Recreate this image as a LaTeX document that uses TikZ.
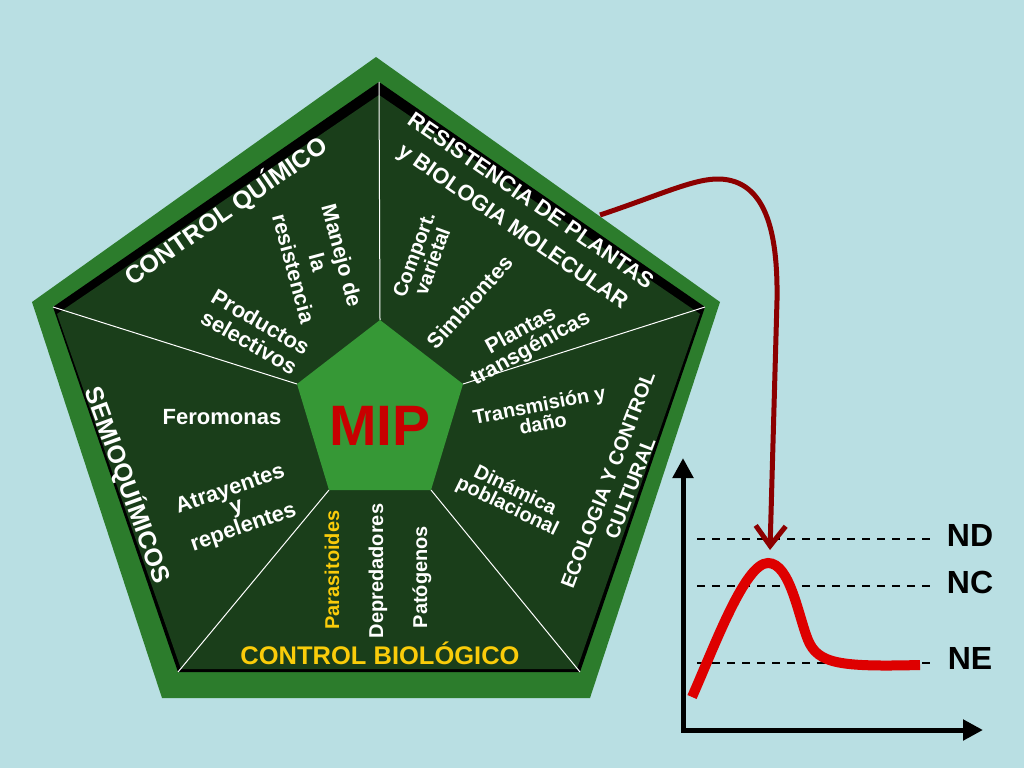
\documentclass[tikz,border=0pt]{standalone}
\usepackage{fontspec}
\setmainfont{Liberation Sans}
\usetikzlibrary{arrows.meta}

\definecolor{bgblue}{RGB}{185,223,227}
\definecolor{rimgreen}{RGB}{44,124,44}
\definecolor{darkleaf}{RGB}{26,62,26}
\definecolor{hubgreen}{RGB}{54,152,54}
\definecolor{mipred}{RGB}{200,0,0}
\definecolor{goldtxt}{RGB}{250,204,10}
\definecolor{curvered}{RGB}{222,0,0}
\definecolor{arrowred}{RGB}{140,0,0}

\begin{document}
\begin{tikzpicture}[x=1pt,y=-1pt]
  \tikzset{
    lbl/.style={text=white, font=\bfseries\fontsize{20}{22}\selectfont, align=center, inner sep=0pt},
    head/.style={lbl, font=\bfseries\fontsize{25}{27}\selectfont},
    divider/.style={white, line width=1pt},
    level/.style={black, line width=2pt, dash pattern=on 8pt off 7pt},
    lvltxt/.style={font=\bfseries\fontsize{32}{32}\selectfont, inner sep=0pt},
    axis/.style={black, line width=5pt, line join=miter, {Triangle[length=20pt,width=20pt]}-{Triangle[length=20pt,width=20pt]}},
    flow/.style={arrowred, line width=5pt, -{Straight Barb[length=20pt,width=30pt]}},
    trend/.style={curvered, line width=10pt}
  }

  % background
  \fill[bgblue] (0,0) rectangle (1024,768);
  \useasboundingbox (0,0) rectangle (1024,768);

  % outer rim
  \coordinate (oT) at (376,57);
  \coordinate (oL) at (32,302);
  \coordinate (oR) at (720,302);
  \coordinate (oBL) at (162,698);
  \coordinate (oBR) at (590,698);
  \fill[rimgreen] (oT) -- (oR) -- (oBR) -- (oBL) -- (oL) -- cycle;

  % black edge and dark field
  \coordinate (iT) at (379,82);
  \coordinate (iL) at (53,307);
  \coordinate (iR) at (705,307);
  \coordinate (iBL) at (178,672);
  \coordinate (iBR) at (580,672);
  \fill[black] (iT) -- (iR) -- (iBR) -- (iBL) -- (iL) -- cycle;
  \fill[darkleaf] (379,95) -- (700,314) -- (577,669) -- (181,669) -- (57,314) -- cycle;

  % hub corners
  \coordinate (hT) at (380,320);
  \coordinate (hL) at (297,384);
  \coordinate (hR) at (463,384);
  \coordinate (hBL) at (329,490);
  \coordinate (hBR) at (431,490);

  % dividers
  \draw[divider] (iT) -- (hT);
  \draw[divider] (iL) -- (hL);
  \draw[divider] (iR) -- (hR);
  \draw[divider] (iBL) -- (hBL);
  \draw[divider] (iBR) -- (hBR);

  \fill[hubgreen] (hT) -- (hR) -- (hBR) -- (hBL) -- (hL) -- cycle;
  \node[font=\bfseries\fontsize{57}{57}\selectfont, text=mipred, inner sep=0pt] (mip) at (380,426) {MIP};

  % sector headings
  \node[head, rotate=34.6] (quim) at (226,211) {CONTROL QUÍMICO};
  \node[head, font=\bfseries\fontsize{22}{31}\selectfont, rotate=-34.6] (resis) at (521,215) {RESISTENCIA DE PLANTAS\\y BIOLOGIA MOLECULAR};
  \node[head, font=\bfseries\fontsize{20}{24}\selectfont, rotate=69] (ecol) at (619,484) {ECOLOGIA Y CONTROL\\CULTURAL};
  \node[head, text=goldtxt, font=\bfseries\fontsize{25.5}{27}\selectfont] (biol) at (380,653) {CONTROL BIOLÓGICO};
  \node[head, rotate=-70] (semio) at (128,485) {SEMIOQUÍMICOS};

  % sector items
  \node[lbl, font=\bfseries\fontsize{21.5}{25}\selectfont, rotate=-75] (manejo) at (318,262) {Manejo de\\la\\resistencia};
  \node[lbl, font=\bfseries\fontsize{22}{23}\selectfont, rotate=-30] (prod) at (255,332) {Productos\\selectivos};
  \node[lbl, font=\bfseries\fontsize{20}{18}\selectfont, rotate=70] (comp) at (423,258) {Comport.\\varietal};
  \node[lbl, font=\bfseries\fontsize{21.5}{22}\selectfont, rotate=48] (simb) at (470,302) {Simbiontes};
  \node[lbl, font=\bfseries\fontsize{21.5}{20}\selectfont, rotate=29] (plant) at (526,340) {Plantas\\transgénicas};
  \node[lbl, font=\bfseries\fontsize{20}{19}\selectfont, rotate=11] (trans) at (541,414) {Transmisión y\\daño};
  \node[lbl, font=\bfseries\fontsize{20}{18}\selectfont, rotate=-26] (dinam) at (511,499) {Dinámica\\poblacional};
  \node[lbl, font=\bfseries\fontsize{22}{22}\selectfont] (fero) at (222,417) {Feromonas};
  \node[lbl, font=\bfseries\fontsize{22}{19}\selectfont, rotate=19] (atra) at (237,509) {Atrayentes\\y\\repelentes};
  \node[lbl, text=goldtxt, rotate=90] (para) at (332,570) {Parasitoides};
  \node[lbl, rotate=90] (depr) at (378,571) {Depredadores};
  \node[lbl, rotate=90] (pato) at (422,577) {Patógenos};

  % graph
  \coordinate (yTip) at (683,458);
  \coordinate (org) at (683,730);
  \coordinate (xTip) at (983,730);
  \draw[axis] (yTip) -- (org) -- (xTip);

  \coordinate (ndA) at (697,539);  \coordinate (ndB) at (933,539);
  \coordinate (ncA) at (697,586);  \coordinate (ncB) at (933,586);
  \coordinate (neA) at (697,663);  \coordinate (neB) at (933,663);
  \draw[level] (ndA) -- (ndB);
  \draw[level] (ncA) -- (ncB);
  \draw[level] (neA) -- (neB);
  \node[lvltxt] (nd) at (970,535) {ND};
  \node[lvltxt] (nc) at (970,582) {NC};
  \node[lvltxt] (ne) at (970,658) {NE};

  \coordinate (c0) at (692,697);
  \coordinate (cTop) at (768,563);
  \coordinate (cEnd) at (920,665);
  \draw[trend] (c0) .. controls (715,645) and (745,563) .. (cTop)
    .. controls (790,563) and (798,615) .. (808,640)
    .. controls (818,664) and (840,667) .. (cEnd);

  % link from sector to peak
  \coordinate (src) at (600,215);
  \coordinate (hit) at (770,550);
  \draw[flow] (src) .. controls (660,195) and (695,178) .. (720,179)
    .. controls (765,181) and (778,230) .. (777,300) -- (hit);
\end{tikzpicture}
\end{document}
